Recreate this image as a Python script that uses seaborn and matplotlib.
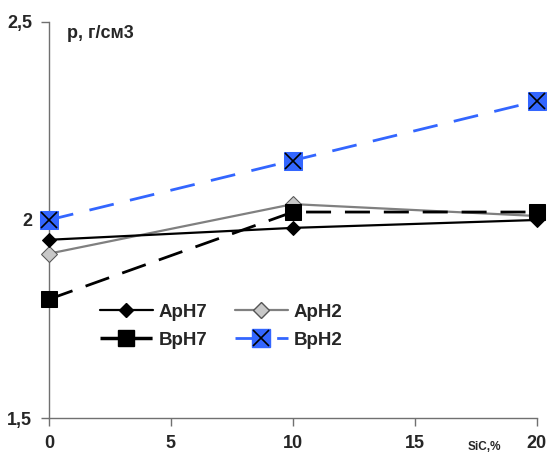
import matplotlib
matplotlib.use("Agg")
import matplotlib.pyplot as plt
from matplotlib.lines import Line2D
import seaborn as sns
import pandas as pd

sic = [0, 10, 20]
aph7 = [1.95, 1.98, 2.00]
aph2 = [1.915, 2.04, 2.01]
bph7 = [1.80, 2.02, 2.02]
bph2 = [2.00, 2.15, 2.30]
x_ticks = [0, 5, 10, 15, 20]
y_ticks = [1.5, 2.0, 2.5]
y_labels = ["1,5", "2", "2,5"]

sns.set_style("white")
plt.rcParams['font.family'] = ['Liberation Sans', 'DejaVu Sans']

fig = plt.figure(figsize=(5.5, 4.54), dpi=100)
ax = fig.add_axes([0.089, 0.079, 0.887, 0.873])

df = pd.DataFrame({"x": sic, "aph7": aph7, "aph2": aph2, "bph7": bph7, "bph2": bph2})

blue = "#3366ff"
sns.lineplot(data=df, x="x", y="bph2", ax=ax, color=blue, lw=2, zorder=2)
ax.lines[-1].set_dashes([9, 6])
sns.lineplot(data=df, x="x", y="bph2", ax=ax, color=blue, lw=0, marker="s",
             markersize=12.5, markeredgecolor=blue, zorder=5)
sns.lineplot(data=df, x="x", y="bph2", ax=ax, color="black", lw=0, marker="x",
             markersize=11, markeredgewidth=1.2, markeredgecolor="black", zorder=6)

sns.lineplot(data=df, x="x", y="aph7", ax=ax, color="black", lw=1.6, marker="D",
             markersize=7.5, markeredgecolor="black", zorder=4)
sns.lineplot(data=df, x="x", y="aph2", ax=ax, color="#808080", lw=1.6, marker="D",
             markersize=8.5, markerfacecolor="#c8c8c8", markeredgecolor="#555555", zorder=3)
sns.lineplot(data=df, x="x", y="bph7", ax=ax, color="black", lw=2, marker="s",
             markersize=11, markeredgecolor="black", zorder=4)
ax.lines[-1].set_dashes([9, 5])
for ln in ax.lines:
    ln.set_clip_on(False)

ax.set_xlim(0, 20)
ax.set_ylim(1.5, 2.5)
ax.set_xticks(x_ticks)
ax.set_xticklabels([str(t) for t in x_ticks], fontweight="bold", fontsize=13)
ax.set_yticks(y_ticks)
ax.set_yticklabels(y_labels, fontweight="bold", fontsize=13)
ax.set_xlabel("")
ax.set_ylabel("")
for s in ["top", "right"]:
    ax.spines[s].set_visible(False)
for s in ["left", "bottom"]:
    ax.spines[s].set_color("#707070")
    ax.spines[s].set_linewidth(1)
ax.tick_params(axis="both", which="both", direction="out", length=6, width=1,
               color="#707070", left=True, bottom=True)
ax.tick_params(axis="x", pad=6)
ax.tick_params(axis="y", pad=6)
ax.grid(False)

ax.text(0.038, 0.993, "р, г/см3", transform=ax.transAxes, fontsize=13,
        fontweight="bold", va="top", ha="left")
ax.text(0.893, -0.073, "SiC,%", transform=ax.transAxes, fontsize=8.5,
        fontweight="bold", va="center", ha="center")

h1 = Line2D([], [], color="black", lw=1.6, marker="D", markersize=7.5)
h2 = Line2D([], [], color="#808080", lw=1.6, marker="D", markersize=8.5,
            markerfacecolor="#c8c8c8", markeredgecolor="#555555")
h3 = Line2D([], [], color="black", lw=2.5, marker="s", markersize=11, dashes=[6, 3])
h4a = Line2D([], [], color=blue, lw=2, marker="s", markersize=12.5, dashes=[9, 6])
h4b = Line2D([], [], color="black", lw=0, marker="x", markersize=11, markeredgewidth=1.2)
leg = ax.legend([h1, h3, h2, (h4a, h4b)], ["ApH7", "BpH7", "ApH2", "BpH2"],
                ncol=2, loc="center left", bbox_to_anchor=(0.105, 0.232),
                frameon=False, prop={"weight": "bold", "size": 13.5},
                handlelength=2.8, handletextpad=0.3, columnspacing=1.5,
                labelspacing=0.6, borderpad=0, borderaxespad=0)

fig.savefig("out.png", dpi=100)
